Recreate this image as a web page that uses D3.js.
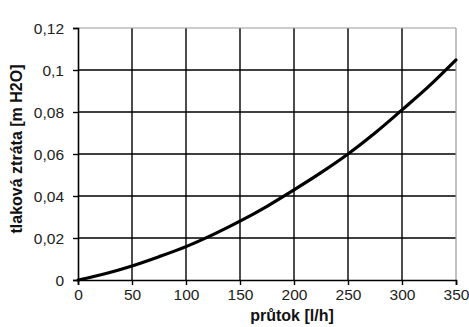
<!DOCTYPE html>
<html>
<head>
<meta charset="utf-8">
<script src="https://cdn.jsdelivr.net/npm/d3@7"></script>
<style>
  html, body { margin: 0; padding: 0; background: #fff; }
  svg { display: block; }
</style>
</head>
<body>
<svg id="chart" width="469" height="327"></svg>
<script>
// Flow rate [l/h] and the matching pressure loss [m H2O]
const flow = [0, 25, 50, 75, 100, 125, 150, 175, 200, 225, 250, 275, 300, 325, 350];
const loss = [0, 0.0030, 0.0067, 0.0111, 0.0159, 0.0216, 0.0280, 0.0351, 0.0429, 0.0511, 0.0600, 0.0700, 0.0810, 0.0923, 0.1048];

const xTicks = [0, 50, 100, 150, 200, 250, 300, 350];
const yTicks = [0, 0.02, 0.04, 0.06, 0.08, 0.1, 0.12];

const xTitle = "průtok [l/h]";
const yTitle = "tlaková ztráta [m H2O]";

const svg = d3.select("#chart");
const margin = { left: 78, top: 28, right: 13, bottom: 47 };
const W = 469, H = 327;

const x = d3.scaleLinear().domain([0, 350]).range([margin.left, W - margin.right]);
const y = d3.scaleLinear().domain([0, 0.12]).range([H - margin.bottom, margin.top]);

const fmt = d => d3.format(".2~f")(d).replace(".", ",");
const font = "'Liberation Sans', Arial, sans-serif";

// Grid lines
const grid = svg.append("g");
grid.selectAll("line.v").data(xTicks.slice(1, -1)).join("line")
  .attr("x1", d => x(d)).attr("x2", d => x(d))
  .attr("y1", y(0.12)).attr("y2", y(0))
  .attr("stroke", "#000").attr("stroke-width", 1.4);
grid.selectAll("line.h").data(yTicks.slice(1, -1)).join("line")
  .attr("x1", x(0)).attr("x2", x(350))
  .attr("y1", d => y(d)).attr("y2", d => y(d))
  .attr("stroke", "#000").attr("stroke-width", 1.4);

// Light frame on the top and right
svg.append("line").attr("x1", x(0)).attr("x2", x(350)).attr("y1", y(0.12)).attr("y2", y(0.12))
  .attr("stroke", "#9a9a9a").attr("stroke-width", 1.2);
svg.append("line").attr("x1", x(350)).attr("x2", x(350)).attr("y1", y(0.12)).attr("y2", y(0))
  .attr("stroke", "#9a9a9a").attr("stroke-width", 1.2);

// Axes
const xAxis = svg.append("g").attr("transform", `translate(0,${y(0)})`)
  .call(d3.axisBottom(x).tickValues(xTicks).tickSize(5).tickPadding(4).tickFormat(d3.format("d")));
const yAxis = svg.append("g").attr("transform", `translate(${x(0)},0)`)
  .call(d3.axisLeft(y).tickValues(yTicks).tickSize(5).tickPadding(9).tickFormat(fmt));

[xAxis, yAxis].forEach(g => {
  g.select(".domain").attr("stroke", "#000").attr("stroke-width", 1.6);
  g.selectAll(".tick line").attr("stroke", "#000").attr("stroke-width", 1.4);
  g.selectAll(".tick text").attr("fill", "#222").style("font-family", font).style("font-size", "15.5px");
});
yAxis.selectAll(".tick text").attr("dy", "0.35em");

// Loss curve
const line = d3.line().x((d, i) => x(flow[i])).y(d => y(d)).curve(d3.curveMonotoneX);
svg.append("path").datum(loss)
  .attr("d", line)
  .attr("fill", "none").attr("stroke", "#000").attr("stroke-width", 3.2)
  .attr("stroke-linecap", "round");

// Axis titles
svg.append("text").attr("x", 292).attr("y", 321)
  .attr("text-anchor", "middle").attr("fill", "#111")
  .style("font-family", font).style("font-weight", "bold").style("font-size", "16px")
  .text(xTitle);
svg.append("text").attr("transform", `translate(22,149) rotate(-90)`)
  .attr("text-anchor", "middle").attr("fill", "#111")
  .style("font-family", font).style("font-weight", "bold").style("font-size", "16px")
  .text(yTitle);
</script>
</body>
</html>
